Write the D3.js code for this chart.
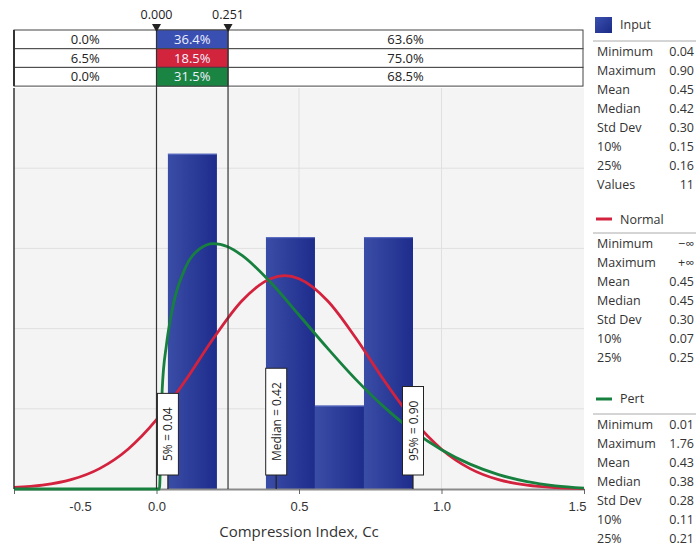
<!DOCTYPE html>
<html>
<head>
<meta charset="utf-8">
<script src="https://cdn.jsdelivr.net/npm/d3@7"></script>
<style>
  body { margin: 0; background: #fff; }
  svg { font-family: "Open Sans", "Noto Sans", sans-serif; }
</style>
</head>
<body>
<div id="chart"></div>
<script>
// histogram of the 11 input values (density)
var binEdges   = [0.04, 0.212, 0.384, 0.556, 0.728, 0.90];
var binDensity = [2.09, 0, 1.57, 0.52, 1.57];

// fitted curves
var normalX = [-0.5, -0.4, -0.3, -0.2, -0.1, 0.0, 0.1, 0.2, 0.3, 0.4, 0.45, 0.5, 0.6, 0.7, 0.8, 0.9, 1.0, 1.1, 1.2, 1.3, 1.4, 1.5];
var normalY = [0.01, 0.024, 0.058, 0.127, 0.248, 0.432, 0.673, 0.94, 1.174, 1.311, 1.33, 1.311, 1.174, 0.94, 0.673, 0.432, 0.248, 0.127, 0.058, 0.024, 0.009, 0.003];
var pertX = [-0.5, 0.0, 0.01, 0.02, 0.035, 0.05, 0.1, 0.15, 0.2, 0.25, 0.3, 0.4, 0.5, 0.6, 0.7, 0.8, 0.9, 1.0, 1.1, 1.2, 1.3, 1.4, 1.5];
var pertY = [0, 0, 0, 0.62, 0.9, 1.07, 1.375, 1.496, 1.53, 1.51, 1.456, 1.289, 1.085, 0.878, 0.682, 0.509, 0.362, 0.245, 0.155, 0.09, 0.046, 0.02, 0.006];

var xTicks = [-0.5, 0.0, 0.5, 1.0, 1.5];
var yGrid  = [0.5, 1.0, 1.5, 2.0];

// delimiters and band table
var delimiters = [0.000, 0.251];
var bandColors = ["#3a4fb2", "#d3243d", "#1a8443"];
var bandLeft   = ["0.0%", "6.5%", "0.0%"];
var bandMid    = ["36.4%", "18.5%", "31.5%"];
var bandRight  = ["63.6%", "75.0%", "68.5%"];

// percentile markers
var markerValues = [0.04, 0.42, 0.90];
var markerLabels = ["5% = 0.04", "Median = 0.42", "95% = 0.90"];

// statistics panel
var statNames   = ["Minimum", "Maximum", "Mean", "Median", "Std Dev", "10%", "25%", "Values"];
var inputStats  = ["0.04", "0.90", "0.45", "0.42", "0.30", "0.15", "0.16", "11"];
var normalStats = ["\u2212\u221e", "+\u221e", "0.45", "0.45", "0.30", "0.07", "0.25"];
var pertStats   = ["0.01", "1.76", "0.43", "0.38", "0.28", "0.11", "0.21"];

var W = 696, H = 550;
var plot = {left: 14, right: 584, top: 88, bottom: 489};

var svg = d3.select("#chart").append("svg")
    .attr("width", W)
    .attr("height", H);

var defs = svg.append("defs");
var grad = defs.append("linearGradient")
    .attr("id", "barGrad")
    .attr("x1", 0).attr("x2", 1).attr("y1", 0).attr("y2", 0);
grad.append("stop").attr("offset", "0%").attr("stop-color", "#3a4da6");
grad.append("stop").attr("offset", "100%").attr("stop-color", "#1e2c8c");

var sq = defs.append("linearGradient")
    .attr("id", "sqGrad")
    .attr("x1", 0).attr("x2", 1).attr("y1", 0).attr("y2", 1);
sq.append("stop").attr("offset", "0%").attr("stop-color", "#3b50b0");
sq.append("stop").attr("offset", "100%").attr("stop-color", "#1a2a85");

defs.append("clipPath").attr("id", "plotClip")
  .append("rect")
    .attr("x", plot.left).attr("y", plot.top)
    .attr("width", plot.right - plot.left).attr("height", plot.bottom - plot.top + 2);

var x = d3.scaleLinear().domain([-0.5, 1.5]).range([plot.left, plot.right]);
var y = d3.scaleLinear().domain([0, 2.5]).range([plot.bottom, plot.top]);

// plot background
svg.append("rect")
    .attr("x", plot.left).attr("y", plot.top)
    .attr("width", plot.right - plot.left)
    .attr("height", plot.bottom - plot.top)
    .style("fill", "#f4f4f4");

// grid
svg.selectAll(".hgrid").data(yGrid).enter().append("line")
    .attr("x1", plot.left).attr("x2", plot.right)
    .attr("y1", function (d) { return y(d); })
    .attr("y2", function (d) { return y(d); })
    .style("stroke", "#e0e0e0").style("stroke-width", 1);
svg.selectAll(".vgrid").data([0.5, 1.0]).enter().append("line")
    .attr("y1", plot.top).attr("y2", plot.bottom)
    .attr("x1", function (d) { return x(d); })
    .attr("x2", function (d) { return x(d); })
    .style("stroke", "#e0e0e0").style("stroke-width", 1);

// bars
var bins = binDensity.map(function (d, i) {
  return {x0: binEdges[i], x1: binEdges[i + 1], v: d};
}).filter(function (d) { return d.v > 0; });

svg.selectAll(".bar").data(bins).enter().append("rect")
    .attr("class", "bar")
    .attr("x", function (d) { return x(d.x0); })
    .attr("width", function (d) { return x(d.x1) - x(d.x0); })
    .attr("y", function (d) { return y(d.v); })
    .attr("height", function (d) { return y(0) - y(d.v); })
    .style("fill", "url(#barGrad)");
svg.selectAll(".bartop").data(bins).enter().append("line")
    .attr("x1", function (d) { return x(d.x0); })
    .attr("x2", function (d) { return x(d.x1); })
    .attr("y1", function (d) { return y(d.v) + 0.5; })
    .attr("y2", function (d) { return y(d.v) + 0.5; })
    .style("stroke", "#5d70c4").style("stroke-width", 1);

// x axis
var xAxis = d3.axisBottom(x)
    .tickValues(xTicks)
    .tickSizeInner(5)
    .tickSizeOuter(0)
    .tickFormat(function (d) { return d.toFixed(1); });

var gx = svg.append("g")
    .attr("transform", "translate(0," + plot.bottom + ")")
    .call(xAxis);
gx.select(".domain").style("stroke", "#8a8a8a").style("stroke-width", 2);
gx.selectAll(".tick line").style("stroke", "#666");
gx.selectAll(".tick text")
    .style("font-size", "13px")
    .style("fill", "#333")
    .attr("dy", "1.05em");
gx.selectAll(".tick").filter(function (d) { return d === -0.5; })
  .select("text").attr("dx", 66);
gx.selectAll(".tick").filter(function (d) { return d === 1.5; })
  .select("text").attr("text-anchor", "end").attr("dx", 2);

svg.append("text")
    .attr("x", x(0.5))
    .attr("y", 537)
    .attr("text-anchor", "middle")
    .style("font-size", "15px")
    .style("fill", "#333")
    .text("Compression Index, Cc");

// curves
var line = d3.line()
    .x(function (d) { return x(d[0]); })
    .y(function (d) { return y(d[1]); })
    .curve(d3.curveMonotoneX);

var curves = svg.append("g").attr("clip-path", "url(#plotClip)");
curves.append("path")
    .datum(d3.zip(normalX, normalY))
    .attr("d", line)
    .style("fill", "none")
    .style("stroke", "#d3223e")
    .style("stroke-width", 2.8);
curves.append("path")
    .datum(d3.zip(pertX, pertY))
    .attr("d", line)
    .style("fill", "none")
    .style("stroke", "#17803f")
    .style("stroke-width", 2.8);

// left border of plot
svg.append("line")
    .attr("x1", plot.left).attr("x2", plot.left)
    .attr("y1", plot.top).attr("y2", plot.bottom)
    .style("stroke", "#333").style("stroke-width", 1.5);

// band table
var rowTop = 30, rowH = 18.7;
var band = svg.append("g");
bandLeft.forEach(function (d, i) {
  var yy = rowTop + i * rowH;
  band.append("rect")
      .attr("x", plot.left).attr("y", yy)
      .attr("width", 569).attr("height", rowH)
      .style("fill", "#fff").style("stroke", "#444").style("stroke-width", 1);
  band.append("rect")
      .attr("x", x(delimiters[0])).attr("y", yy)
      .attr("width", x(delimiters[1]) - x(delimiters[0])).attr("height", rowH)
      .style("fill", bandColors[i]).style("stroke", "#444").style("stroke-width", 1);
  var ty = yy + rowH / 2 + 4.5;
  band.append("text")
      .attr("x", (plot.left + x(delimiters[0])) / 2).attr("y", ty)
      .attr("text-anchor", "middle")
      .style("font-size", "13px").style("fill", "#222")
      .text(d);
  band.append("text")
      .attr("x", (x(delimiters[0]) + x(delimiters[1])) / 2).attr("y", ty)
      .attr("text-anchor", "middle")
      .style("font-size", "13px").style("fill", "#eef2ff")
      .text(bandMid[i]);
  band.append("text")
      .attr("x", (x(delimiters[1]) + 583) / 2).attr("y", ty)
      .attr("text-anchor", "middle")
      .style("font-size", "13px").style("fill", "#222")
      .text(bandRight[i]);
});
band.append("line")
    .attr("x1", plot.left).attr("x2", plot.left)
    .attr("y1", rowTop).attr("y2", rowTop + 3 * rowH)
    .style("stroke", "#333").style("stroke-width", 2);

// delimiter lines with triangles and labels
delimiters.forEach(function (d) {
  var xx = x(d);
  svg.append("line")
      .attr("x1", xx).attr("x2", xx)
      .attr("y1", 27).attr("y2", plot.bottom)
      .style("stroke", "#333").style("stroke-width", 1.2);
  svg.append("path")
      .attr("d", "M" + (xx - 4.5) + ",24 L" + (xx + 4.5) + ",24 L" + xx + ",32 Z")
      .style("fill", "#222");
  svg.append("text")
      .attr("x", xx).attr("y", 19)
      .attr("text-anchor", "middle")
      .style("font-size", "12.5px").style("fill", "#222")
      .text(d.toFixed(3));
});

// percentile markers
var boxBottom = 475, boxW = 21;
markerValues.forEach(function (v, i) {
  var xx = x(v);
  var g = svg.append("g");
  g.append("line")
      .attr("x1", xx).attr("x2", xx)
      .attr("y1", boxBottom).attr("y2", plot.bottom)
      .style("stroke", "#222").style("stroke-width", 1.2);
  var box = g.append("rect")
      .attr("x", xx - boxW / 2).attr("width", boxW)
      .style("fill", "#fff").style("stroke", "#222").style("stroke-width", 1);
  var t = g.append("text")
      .attr("transform", "translate(" + (xx + 4.5) + "," + (boxBottom - 14) + ") rotate(-90)")
      .style("font-size", "12px").style("fill", "#222")
      .text(markerLabels[i]);
  var len = t.node().getComputedTextLength();
  box.attr("y", boxBottom - len - 28).attr("height", len + 28);
});

// statistics panel
var px0 = 597, pxVal = 694, sepX0 = 593;
function statBlock(names, values, top) {
  var g = svg.append("g");
  g.append("line")
      .attr("x1", sepX0).attr("x2", W)
      .attr("y1", top).attr("y2", top)
      .style("stroke", "#aaa").style("stroke-width", 1);
  values.forEach(function (v, i) {
    var yy = top + 15 + i * 19;
    g.append("text")
        .attr("x", px0).attr("y", yy)
        .style("font-size", "12.5px").style("fill", "#333")
        .text(names[i]);
    g.append("text")
        .attr("x", pxVal).attr("y", yy)
        .attr("text-anchor", "end")
        .style("font-size", "12.5px").style("fill", "#333")
        .text(v);
  });
}

svg.append("rect")
    .attr("x", 595).attr("y", 17).attr("width", 17).attr("height", 16)
    .style("fill", "url(#sqGrad)");
svg.append("text").attr("x", 620).attr("y", 29)
    .style("font-size", "12.5px").style("fill", "#333").text("Input");
statBlock(statNames, inputStats, 41);

svg.append("line")
    .attr("x1", 596).attr("x2", 612).attr("y1", 219).attr("y2", 219)
    .style("stroke", "#d3223e").style("stroke-width", 3);
svg.append("text").attr("x", 620).attr("y", 224)
    .style("font-size", "12.5px").style("fill", "#333").text("Normal");
statBlock(statNames, normalStats, 233);

svg.append("line")
    .attr("x1", 596).attr("x2", 612).attr("y1", 399).attr("y2", 399)
    .style("stroke", "#17803f").style("stroke-width", 3);
svg.append("text").attr("x", 620).attr("y", 403)
    .style("font-size", "12.5px").style("fill", "#333").text("Pert");
statBlock(statNames, pertStats, 414);
</script>
</body>
</html>
